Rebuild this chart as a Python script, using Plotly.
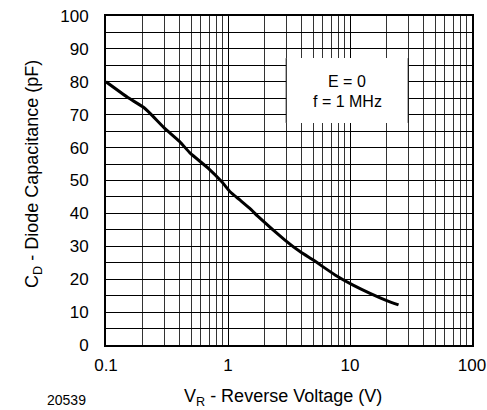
import math
import plotly.graph_objects as go

# Data
vr_volts = [0.1, 0.15, 0.2, 0.23, 0.30, 0.40, 0.49, 0.69, 0.89, 1.04, 1.25, 1.51,
            1.77, 2.93, 3.89, 5.0, 7.54, 10.6, 14.6, 20.0, 25.0]
cd_pf = [80.0, 75.3, 72.4, 70.4, 66.0, 61.9, 58.3, 53.7, 49.6, 46.6, 44.1, 41.5,
         39.0, 31.9, 28.4, 25.8, 21.3, 18.2, 15.7, 13.5, 12.2]

x_tick_vals = [0.1, 1, 10, 100]
x_tick_text = ["0.1", "1", "10", "100"]
x_minor_vals = [m * d for d in (0.1, 1, 10) for m in range(2, 10)]
y_tick_vals = list(range(0, 101, 10))

FONT = "Liberation Sans, Arial, Helvetica, sans-serif"

fig = go.Figure()
fig.add_trace(go.Scatter(
    x=vr_volts, y=cd_pf, mode="lines",
    line=dict(color="black", width=3, shape="spline", smoothing=0.4),
    showlegend=False, hoverinfo="skip",
))

fig.update_layout(
    width=487, height=410,
    margin=dict(l=106, r=15, t=16, b=65, autoexpand=False),
    paper_bgcolor="white", plot_bgcolor="white",
    font=dict(family=FONT, size=17, color="black"),
    showlegend=False,
)

fig.update_xaxes(
    type="log", range=[-1, 2], automargin=False,
    tickvals=x_tick_vals, ticktext=x_tick_text,
    showgrid=True, gridcolor="black", gridwidth=1,
    minor=dict(tickvals=x_minor_vals, showgrid=True, gridcolor="#333333", gridwidth=1, ticks=""),
    showline=True, linecolor="black", linewidth=2, mirror=True,
    ticks="", tickfont=dict(size=17), zeroline=False, ticklabelstandoff=4,
)
fig.update_yaxes(
    range=[0, 100], automargin=False,
    tickvals=y_tick_vals,
    showgrid=True, gridcolor="black", gridwidth=1,
    minor=dict(dtick=5, showgrid=True, gridcolor="black", gridwidth=1, ticks=""),
    showline=True, linecolor="black", linewidth=2, mirror=True,
    ticks="", tickfont=dict(size=17), zeroline=False, ticklabelstandoff=12,
)

# White legend box covering the grid, with its left/right edges on grid lines
box_x0, box_x1 = 3, 30
box_y0, box_y1 = 67.5, 87.2
fig.add_shape(type="rect", xref="x", yref="y", x0=box_x0, x1=box_x1, y0=box_y0, y1=box_y1,
              fillcolor="white", line=dict(width=0), layer="between")
for bx in (box_x0, box_x1):
    fig.add_shape(type="line", xref="x", yref="y", x0=bx, x1=bx, y0=box_y0, y1=box_y1,
                  line=dict(color="black", width=1), layer="between")

box_cx = math.log10(math.sqrt(box_x0 * box_x1))
fig.add_annotation(x=box_cx, y=80.0, xref="x", yref="y", text="E = 0",
                   showarrow=False, font=dict(size=16))
fig.add_annotation(x=box_cx, y=74.0, xref="x", yref="y", text="f = 1 MHz",
                   showarrow=False, font=dict(size=16))

# Axis titles
fig.add_annotation(x=0.484, y=0, xref="paper", yref="paper", yshift=-66,
                   text="V<sub>R</sub> - Reverse Voltage (V)", showarrow=False,
                   font=dict(size=18), xanchor="center", yanchor="bottom")
fig.add_annotation(x=0, y=0.52, xref="paper", yref="paper", xshift=-72,
                   text="C<sub>D</sub> - Diode Capacitance (pF)", showarrow=False,
                   textangle=-90, font=dict(size=18), xanchor="center")
fig.add_annotation(x=0, y=0, xref="paper", yref="paper", xshift=-40, yshift=-55,
                   text="20539", showarrow=False, font=dict(size=14),
                   xanchor="center", yanchor="middle")

fig.write_html("out.html", config={"displayModeBar": False},
               post_script="document.body.style.margin='0';document.body.style.overflow='hidden';")
